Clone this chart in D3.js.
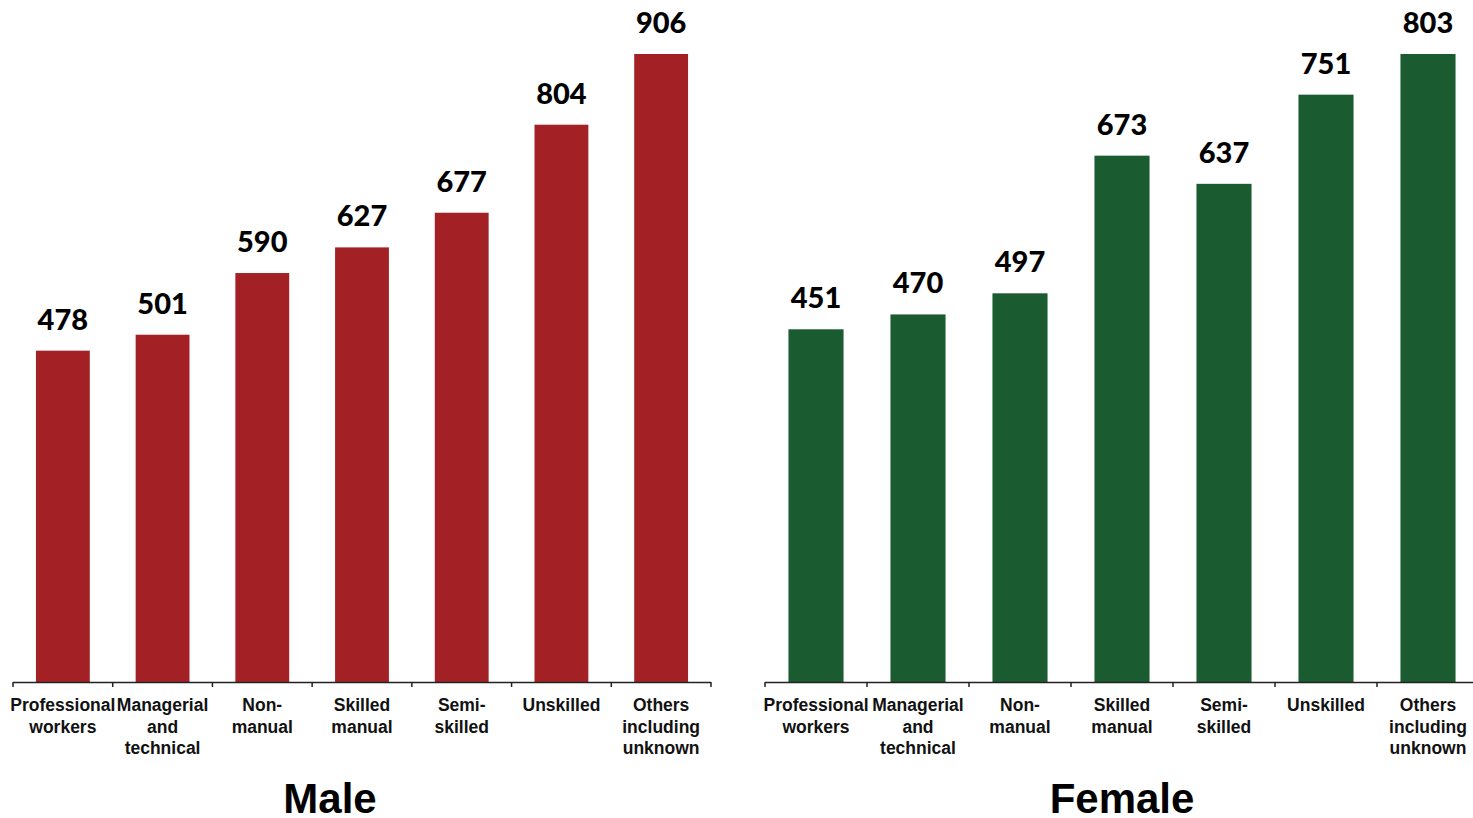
<!DOCTYPE html>
<html>
<head>
<meta charset="utf-8">
<script src="https://cdn.jsdelivr.net/npm/d3@7"></script>
<style>
  html, body { margin: 0; padding: 0; background: #fff; }
  svg { display: block; }
</style>
</head>
<body>
<svg id="chart" width="1473" height="818"></svg>
<script>
// Occupational class categories (shared by both panels); "\n" marks a line break
const categories = [
  "Professional\nworkers",
  "Managerial\nand\ntechnical",
  "Non-\nmanual",
  "Skilled\nmanual",
  "Semi-\nskilled",
  "Unskilled",
  "Others\nincluding\nunknown"
];
const maleValues = [478, 501, 590, 627, 677, 804, 906];
const femaleValues = [451, 470, 497, 673, 637, 751, 803];
const panelTitles = ["Male", "Female"];

const svg = d3.select("#chart");
const baseY = 682, topY = 54;

const panels = [
  { title: panelTitles[0], values: maleValues, color: "#A32024", x0: 13, x1: 711, titleX: 330 },
  { title: panelTitles[1], values: femaleValues, color: "#1A5C30", x0: 765, x1: 1479, titleX: 1122 }
];

panels.forEach(p => {
  const g = svg.append("g");
  const x = d3.scaleBand()
    .domain(categories)
    .range([p.x0, p.x1])
    .paddingInner(0.46)
    .paddingOuter(0.23);
  const y = d3.scaleLinear()
    .domain([0, d3.max(p.values)])
    .range([baseY, topY]);
  const data = categories.map((c, i) => ({ c, v: p.values[i] }));
  const slot = x.step();
  const off = slot * 0.23;

  // bars
  g.selectAll("rect.bar").data(data).join("rect")
    .attr("class", "bar")
    .attr("x", d => x(d.c))
    .attr("y", d => y(d.v))
    .attr("width", x.bandwidth())
    .attr("height", d => baseY - y(d.v))
    .attr("fill", p.color);

  // value labels
  g.selectAll("text.val").data(data).join("text")
    .attr("class", "val")
    .attr("x", d => x(d.c) + x.bandwidth() / 2)
    .attr("y", d => y(d.v) - 21)
    .attr("text-anchor", "middle")
    .style("font-family", "Lato, 'Open Sans', sans-serif")
    .style("font-weight", "900")
    .style("font-size", "29px")
    .attr("fill", "#000")
    .text(d => d.v);

  // baseline axis with ticks at slot boundaries
  g.append("line")
    .attr("x1", p.x0).attr("x2", p.x1)
    .attr("y1", baseY + 0.5).attr("y2", baseY + 0.5)
    .attr("stroke", "#222").attr("stroke-width", 1.5);
  const bounds = categories.map(c => x(c) - off).concat([x(categories[categories.length - 1]) - off + slot]);
  g.selectAll("line.tick").data(bounds).join("line")
    .attr("class", "tick")
    .attr("x1", d => d).attr("x2", d => d)
    .attr("y1", baseY).attr("y2", baseY + 5)
    .attr("stroke", "#222").attr("stroke-width", 1.5);

  // category labels
  const lab = g.selectAll("text.cat").data(data).join("text")
    .attr("class", "cat")
    .attr("x", d => x(d.c) + x.bandwidth() / 2)
    .attr("y", baseY + 29)
    .attr("text-anchor", "middle")
    .style("font-family", "'Liberation Sans', Arial, sans-serif")
    .style("font-weight", "bold")
    .style("font-size", "17.5px")
    .attr("fill", "#111");
  lab.each(function(d) {
    const t = d3.select(this);
    d.c.split("\n").forEach((line, i) => {
      t.append("tspan")
        .attr("x", x(d.c) + x.bandwidth() / 2)
        .attr("dy", i === 0 ? 0 : 21.5)
        .text(line);
    });
  });

  // panel title
  g.append("text")
    .attr("x", p.titleX)
    .attr("y", 813)
    .attr("text-anchor", "middle")
    .style("font-family", "'Liberation Sans', Arial, sans-serif")
    .style("font-weight", "bold")
    .style("font-size", "42px")
    .attr("fill", "#000")
    .text(p.title);
});
</script>
</body>
</html>
